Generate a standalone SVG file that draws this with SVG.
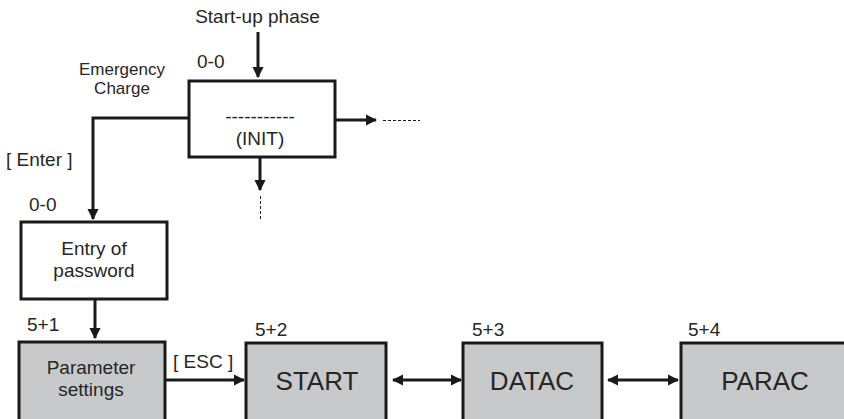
<svg xmlns="http://www.w3.org/2000/svg" width="844" height="419" viewBox="0 0 844 419">
  <style>
    .box { stroke: #1a1a1a; stroke-width: 3; }
    .white { fill: #ffffff; }
    .grey { fill: #c8c9cb; }
    .t { font-family: "Liberation Sans", Arial, sans-serif; fill: #262626; }
    .s { font-size: 17px; }
    .m { font-size: 19px; }
    .l { font-size: 26px; }
    .ln { stroke: #1a1a1a; stroke-width: 3; fill: none; }
    .dot { stroke: #1a1a1a; stroke-width: 1; stroke-dasharray: 3 2; fill: none; }
  </style>
  <defs>
    <marker id="ah" viewBox="0 0 10 10" refX="9" refY="5" markerWidth="3.8" markerHeight="3.8" orient="auto-start-reverse" markerUnits="strokeWidth">
      <path d="M0,0 L10,5 L0,10 z" fill="#1a1a1a"/>
    </marker>
  </defs>
  <rect width="844" height="419" fill="#ffffff"/>

  <text class="t m" x="257.5" y="23" text-anchor="middle">Start-up phase</text>

  <g id="init">
    <rect class="box white" x="189" y="81" width="146" height="76"/>
    <text class="t m" x="260" y="123" text-anchor="middle">-----------</text>
    <text class="t m" x="260" y="145" text-anchor="middle">(INIT)</text>
    <text class="t m" x="197" y="68">0-0</text>
  </g>

  <g id="entry">
    <rect class="box white" x="21" y="222" width="146" height="77"/>
    <text class="t m" x="94" y="255" text-anchor="middle">Entry of</text>
    <text class="t m" x="94" y="277" text-anchor="middle">password</text>
    <text class="t m" x="29" y="211">0-0</text>
  </g>

  <g id="param">
    <rect class="box grey" x="19" y="342" width="146" height="80"/>
    <text class="t m" x="91" y="374" text-anchor="middle">Parameter</text>
    <text class="t m" x="91" y="396" text-anchor="middle">settings</text>
    <text class="t m" x="27" y="331">5+1</text>
  </g>

  <g id="start">
    <rect class="box grey" x="246" y="343" width="140" height="80"/>
    <text class="t l" x="317" y="390" text-anchor="middle">START</text>
    <text class="t m" x="255" y="336">5+2</text>
  </g>

  <g id="datac">
    <rect class="box grey" x="463" y="343" width="139" height="80"/>
    <text class="t l" x="532" y="390" text-anchor="middle">DATAC</text>
    <text class="t m" x="472" y="336">5+3</text>
  </g>

  <g id="parac">
    <rect class="box grey" x="681" y="343" width="168" height="80"/>
    <text class="t l" x="765" y="390" text-anchor="middle">PARAC</text>
    <text class="t m" x="688" y="336">5+4</text>
  </g>

  <g id="connectors">
    <line class="ln" x1="258" y1="32" x2="258" y2="77" marker-end="url(#ah)"/>
    <polyline class="ln" points="189,118 93,118 93,219" marker-end="url(#ah)"/>
    <line class="ln" x1="335" y1="120" x2="376" y2="120" marker-end="url(#ah)"/>
    <line class="dot" x1="383" y1="120.5" x2="420" y2="120.5"/>
    <line class="ln" x1="260" y1="157" x2="260" y2="190" marker-end="url(#ah)"/>
    <line class="dot" x1="260.5" y1="196" x2="260.5" y2="220"/>
    <line class="ln" x1="95" y1="299" x2="95" y2="338" marker-end="url(#ah)"/>
    <line class="ln" x1="165" y1="380" x2="244" y2="380" marker-end="url(#ah)"/>
    <line class="ln" x1="393" y1="380" x2="461" y2="380" marker-start="url(#ah)" marker-end="url(#ah)"/>
    <line class="ln" x1="608" y1="380" x2="678" y2="380" marker-start="url(#ah)" marker-end="url(#ah)"/>
  </g>

  <g id="labels">
    <text class="t s" x="122" y="75" text-anchor="middle">Emergency</text>
    <text class="t s" x="122" y="94" text-anchor="middle">Charge</text>
    <text class="t m" x="6" y="166">[ Enter ]</text>
    <text class="t m" x="173" y="368">[ ESC ]</text>
  </g>
</svg>
